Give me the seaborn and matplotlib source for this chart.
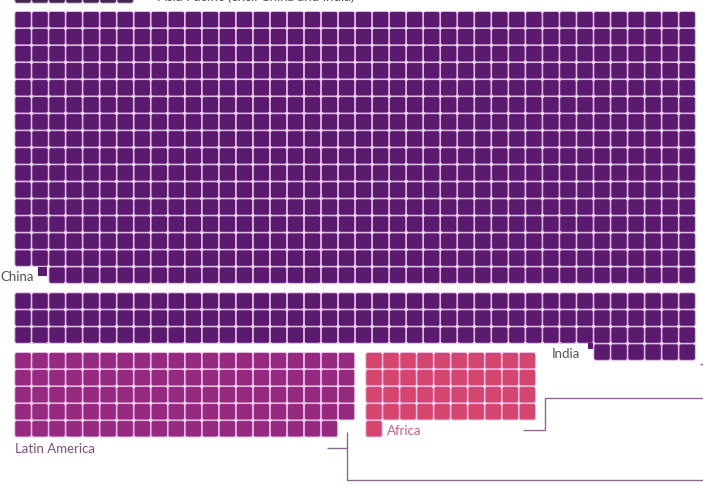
import numpy as np
import pandas as pd
import matplotlib.pyplot as plt
import seaborn as sns
from matplotlib.path import Path

# one square = one unit, counts
regions = ["Asia Pacific (tail)", "China", "India", "Latin America", "Africa"]
counts = [7, 638, 126, 99, 41]
n_cols = [40, 40, 40, 20, 10]
last_row_align = ["left", "right", "right", "left", "left"]
labels = ["Asia Pacific (excl. China and India)", "China", "India", "Latin America", "Africa"]

colors = {
    "Asia Pacific (tail)": "#3b2a4c",
    "China": "#5a1b6f",
    "India": "#5a1b6f",
    "Latin America": "#962a7e",
    "Africa": "#d5466e",
}

# layout (pixels): top-left corner of each block, pitch of the grid
pitch = 17.03
origins = {
    "Asia Pacific (tail)": (15, -13),
    "China": (15, 11.7),
    "India": (15, 293),
    "Latin America": (15, 352.7),
    "Africa": (366, 352.7),
}


def cells(name, n, ncol, align):
    x0, y0 = origins[name]
    rows = []
    full, rest = divmod(n, ncol)
    for r in range(full):
        for c in range(ncol):
            rows.append((r, c))
    for k in range(rest):
        c = k if align == "left" else ncol - rest + k
        rows.append((full, c))
    out = pd.DataFrame(rows, columns=["row", "col"])
    out["x"] = x0 + 8 + out["col"] * pitch
    out["y"] = y0 + 8 + out["row"] * pitch
    out["region"] = name
    return out


df = pd.concat([cells(r, n, c, a) for r, n, c, a in zip(regions, counts, n_cols, last_row_align)])

# rounded square marker
def rounded_square(rad=0.12, k=6):
    verts = []
    h = 0.5
    corners = [(h - rad, h - rad, 0), (-h + rad, h - rad, 90), (-h + rad, -h + rad, 180), (h - rad, -h + rad, 270)]
    for cx, cy, a0 in corners:
        for t in np.linspace(np.radians(a0), np.radians(a0 + 90), k):
            verts.append((cx + rad * np.cos(t), cy + rad * np.sin(t)))
    verts.append(verts[0])
    codes = [Path.MOVETO] + [Path.LINETO] * (len(verts) - 2) + [Path.CLOSEPOLY]
    return Path(verts, codes)


sns.set_style("white")
plt.rcParams["font.family"] = ["Lato", "DejaVu Sans"]

fig = plt.figure(figsize=(7.03, 4.88), dpi=100)
ax = fig.add_axes([0, 0, 1, 1])

side = 16.3 * 0.72
sns.scatterplot(data=df, x="x", y="y", hue="region", palette=colors, marker=rounded_square(),
                s=side ** 2, edgecolor="#ecbdf0", linewidth=0.6, legend=False, ax=ax)

# small key squares beside the labels
sns.scatterplot(x=[42.5, 590.5], y=[271.5, 346], color="#5a1b6f", marker="s",
                s=[(8.5 * 0.72) ** 2, (5.5 * 0.72) ** 2], linewidth=0, legend=False, ax=ax)

ax.set_xlim(0, 703)
ax.set_ylim(488, 0)
ax.axis("off")

ax.text(158, -3, labels[0], fontsize=9.5, color="#555555", va="center", ha="left")
ax.text(0, 277, labels[1], fontsize=9.5, color="#55505c", va="center", ha="left")
ax.text(552, 354, labels[2], fontsize=9.5, color="#55505c", va="center", ha="left")
ax.text(15, 449, labels[3], fontsize=9.5, color="#7d4f7c", va="center", ha="left")
ax.text(387, 431, labels[4], fontsize=9.5, color="#cc5b85", va="center", ha="left")

line_kw = dict(color="#8c6a8c", lw=1.0, solid_capstyle="butt")
ax.plot([327, 347, 347, 703], [448, 448, 480, 480], **line_kw)
ax.plot([347, 347], [432, 448], **line_kw)
ax.plot([523, 545, 545, 703], [430, 430, 398, 398], **line_kw)
ax.plot([700, 703], [364, 364], **line_kw)

fig.savefig("out.png", dpi=100)
